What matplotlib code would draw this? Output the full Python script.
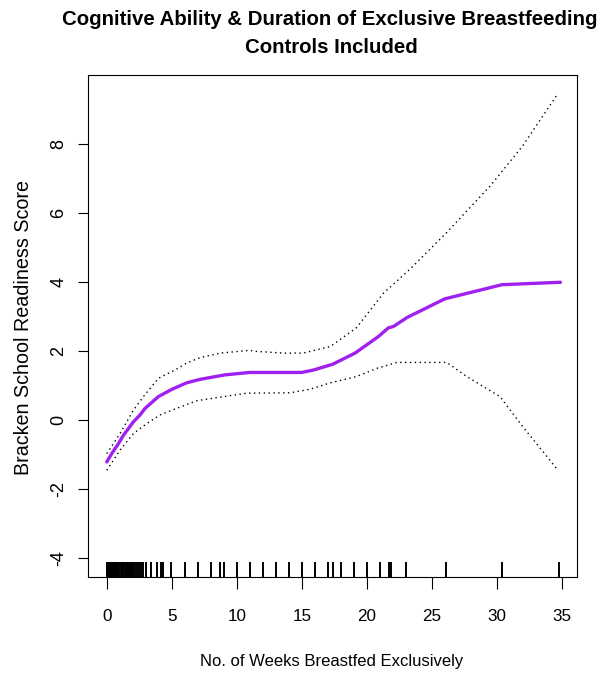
import matplotlib
matplotlib.use('Agg')
import matplotlib.pyplot as plt
import matplotlib.transforms as mtransforms

plt.rcParams['font.family'] = ['Liberation Sans', 'DejaVu Sans']

# fitted smooth (weeks, score)
fit_weeks = [0, 0.38, 0.9, 1.28, 2.05, 2.56, 2.95, 3.97, 5.0, 6.15, 7.18, 9.1,
             11.0, 15.0, 15.9, 17.4, 19.1, 20.9, 21.66, 22.05, 23.1, 26.0, 30.4, 34.9]
fit_score = [-1.21, -0.97, -0.68, -0.44, -0.05, 0.15, 0.34, 0.68, 0.89, 1.08, 1.18, 1.31,
             1.38, 1.38, 1.45, 1.62, 1.94, 2.42, 2.67, 2.71, 2.97, 3.51, 3.92, 3.99]

# upper band
up_weeks = [0, 1.02, 2.05, 2.82, 3.97, 5.25, 6.13, 7.18, 8.72, 11.0, 11.5, 13.6,
            15.1, 17.2, 19.2, 21.3, 23.3, 26.15, 29.5, 32.0, 34.7]
up_score = [-0.97, -0.39, 0.29, 0.68, 1.21, 1.45, 1.65, 1.81, 1.94, 2.02, 1.99, 1.94,
            1.94, 2.13, 2.67, 3.68, 4.36, 5.43, 6.78, 7.94, 9.45]

# lower band
lo_weeks = [0, 1.02, 2.05, 3.08, 4.1, 5.38, 6.9, 8.97, 10.77, 14.1, 15.6, 17.2,
            19.2, 20.8, 22.3, 26.15, 27.7, 30.25, 32.0, 34.6]
lo_score = [-1.45, -0.87, -0.39, -0.10, 0.15, 0.34, 0.56, 0.68, 0.78, 0.79, 0.89, 1.08,
            1.26, 1.50, 1.67, 1.67, 1.26, 0.68, -0.19, -1.40]

# observed durations (rug)
rug_weeks = [0, 0.08, 0.16, 0.24, 0.32, 0.4, 0.48, 0.56, 0.64,
             0.74, 0.82, 0.9, 0.98, 1.06, 1.14, 1.22, 1.28,
             1.42, 1.5, 1.58, 1.66, 1.74, 1.82, 1.9, 1.98, 2.05, 2.15, 2.3,
             2.45, 2.6, 2.8, 3.05, 3.4, 3.9, 4.2, 4.35, 4.95,
             6, 7, 8, 8.7, 9, 10, 11, 12, 13, 14, 15, 16, 17, 17.4, 18,
             19, 20, 21, 21.7, 21.9, 23, 26.1, 30.4, 34.8]

x_ticks = [0, 5, 10, 15, 20, 25, 30, 35]
y_ticks = [-4, -2, 0, 2, 4, 6, 8]

W, H = 615, 675
fig = plt.figure(figsize=(W / 100, H / 100), dpi=100)
ax = fig.add_axes([88.3 / W, 1 - 577.3 / H, 488.4 / W, 502.3 / H])

ax.plot(up_weeks, up_score, color='black', lw=1.0, linestyle=(0, (1, 2.5)))
ax.plot(lo_weeks, lo_score, color='black', lw=1.0, linestyle=(0, (1, 2.5)))
ax.plot(fit_weeks, fit_score, color='#A020F0', lw=2.4, solid_capstyle='round')

# rug along the bottom
trans = mtransforms.blended_transform_factory(ax.transData, ax.transAxes)
ax.vlines(rug_weeks, 0, 0.03, transform=trans, color='black', lw=1.4)

ax.set_xlim(-1.42, 36.15)
ax.set_ylim(-4.55, 9.99)
ax.set_xticks(x_ticks)
ax.set_xticklabels([str(v) for v in x_ticks], fontsize=12.3)
ax.set_yticks(y_ticks)
ax.set_yticklabels([str(v) for v in y_ticks], rotation=90, va='center', fontsize=13)
ax.tick_params(axis='x', direction='out', length=8.6, width=0.8, pad=14)
ax.tick_params(axis='y', direction='out', length=7, width=0.8, pad=8)
for s in ax.spines.values():
    s.set_linewidth(0.8)

fig.text(332 / W, 1 - 666 / H, 'No. of Weeks Breastfed Exclusively', fontsize=12,
         ha='center', va='baseline')
fig.text(24 / W, 1 - 328 / H, 'Bracken School Readiness Score', fontsize=14.2,
         rotation=90, ha='center', va='center')
fig.text(330 / W, 1 - 25 / H, 'Cognitive Ability & Duration of Exclusive Breastfeeding',
         fontsize=14.7, fontweight='bold', ha='center', va='baseline')
fig.text(331 / W, 1 - 53 / H, 'Controls Included',
         fontsize=14.7, fontweight='bold', ha='center', va='baseline')

fig.savefig('out.png', dpi=100)
